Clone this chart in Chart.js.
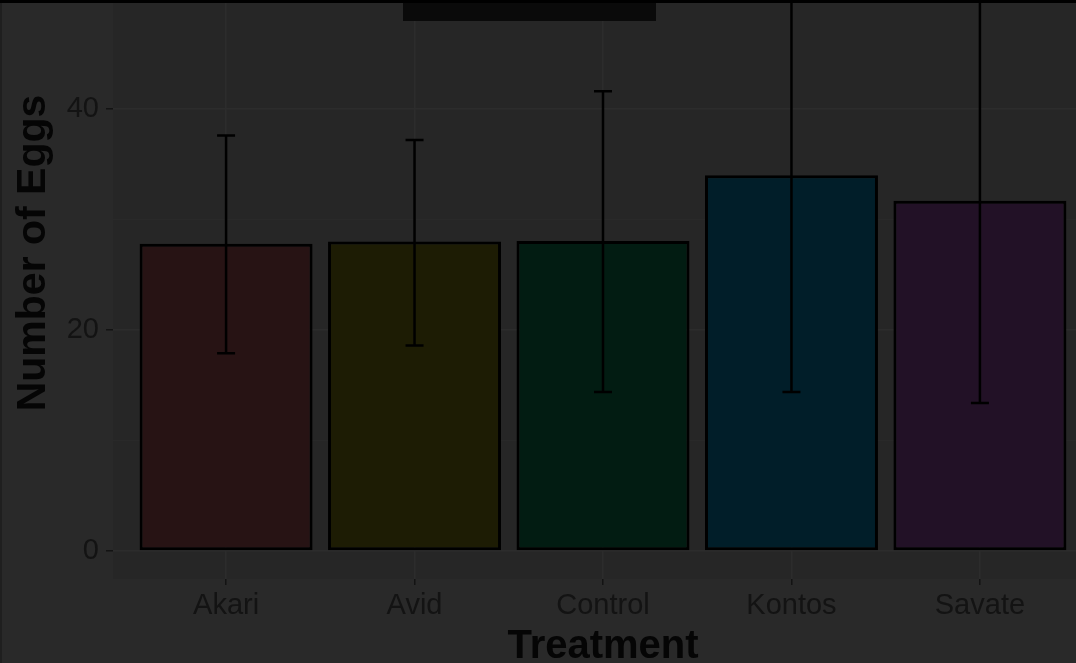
<!DOCTYPE html>
<html>
<head>
<meta charset="utf-8">
<script src="https://cdn.jsdelivr.net/npm/chart.js@4.4.1/dist/chart.umd.min.js"></script>
<style>
  html, body { margin: 0; padding: 0; background: #292929; overflow: hidden; }
  #wrap { position: relative; width: 1076px; height: 663px; overflow: hidden; }
  #eggChart { position: absolute; left: 0; top: -76px; }
  .topline { position: absolute; left: 0; top: 0; width: 1076px; height: 3px; background: #000; }
  .topbox { position: absolute; left: 403px; top: 3px; width: 253px; height: 18px; background: #0a0a0a; }
  .leftline { position: absolute; left: 0; top: 0; width: 2px; height: 663px; background: #1f1f1f; }
</style>
</head>
<body>
<div id="wrap">
  <canvas id="eggChart" width="1093" height="740"></canvas>
  <div class="leftline"></div>
  <div class="topline"></div>
  <div class="topbox"></div>
</div>
<script>
const treatments = ['Akari', 'Avid', 'Control', 'Kontos', 'Savate'];
const meanEggs = [27.8, 28.0, 28.05, 34.0, 31.7];
const lowerEggs = [17.9, 18.6, 14.4, 14.4, 13.4];
const upperEggs = [37.6, 37.2, 41.6, 53.6, 50.0];
const barColors = ['#271314', '#1d1c04', '#021c12', '#011e29', '#221126'];
const yTicks = [0, 10, 20, 30, 40, 50];
const yLabelled = [0, 20, 40];

const fontFamily = '"Liberation Sans", Arial, sans-serif';

// panel background (ggplot panel)
const panelBg = {
  id: 'panelBg',
  beforeDraw(chart) {
    const { ctx, chartArea } = chart;
    ctx.save();
    ctx.fillStyle = '#262626';
    ctx.fillRect(chartArea.left, chartArea.top, chartArea.right - chartArea.left, chartArea.bottom - chartArea.top);
    ctx.restore();
  }
};

// error bars drawn from lower/upper arrays
const errorBars = {
  id: 'errorBars',
  afterDatasetsDraw(chart) {
    const { ctx, scales } = chart;
    ctx.save();
    ctx.strokeStyle = '#000000';
    ctx.lineWidth = 2.5;
    const cap = 9;
    treatments.forEach((t, i) => {
      const x = scales.x.getPixelForValue(i + 1);
      const yLo = scales.y.getPixelForValue(lowerEggs[i]);
      const yHi = scales.y.getPixelForValue(upperEggs[i]);
      ctx.beginPath();
      ctx.moveTo(x, yLo);
      ctx.lineTo(x, yHi);
      ctx.moveTo(x - cap, yLo);
      ctx.lineTo(x + cap, yLo);
      ctx.moveTo(x - cap, yHi);
      ctx.lineTo(x + cap, yHi);
      ctx.stroke();
    });
    ctx.restore();
  }
};

const ctx = document.getElementById('eggChart').getContext('2d');
const eggChart = new Chart(ctx, {
  type: 'bar',
  data: {
    datasets: [{
      data: meanEggs.map((v, i) => ({ x: i + 1, y: v })),
      backgroundColor: barColors,
      borderColor: '#000000',
      borderWidth: 3,
      borderSkipped: false,
      categoryPercentage: 1,
      barPercentage: 0.918
    }]
  },
  options: {
    responsive: false,
    animation: false,
    layout: { padding: { top: 3, right: 0, left: 0, bottom: 0 } },
    plugins: {
      legend: { display: false },
      tooltip: { enabled: false }
    },
    scales: {
      x: {
        type: 'linear',
        min: 0.4,
        max: 5.6,
        offset: false,
        afterBuildTicks: scale => { scale.ticks = treatments.map((t, i) => ({ value: i + 1 })); },
        afterFit: scale => {
          scale.height = 85;
          scale.paddingLeft = 0;
          scale.paddingRight = 0;
        },
        border: { display: false },
        grid: {
          offset: false,
          color: '#2c2c2c',
          lineWidth: 1.5,
          tickColor: '#131313',
          tickLength: 6
        },
        ticks: {
          autoSkip: false,
          maxRotation: 0,
          padding: 4,
          color: '#131313',
          font: { family: fontFamily, size: 29 },
          callback: v => treatments[v - 1]
        },
        title: {
          display: true,
          text: 'Treatment',
          color: '#050505',
          font: { family: fontFamily, size: 40, weight: 'bold', lineHeight: 1 },
          padding: { top: 0, bottom: -3 }
        }
      },
      y: {
        min: -2.53,
        max: 56.47,
        afterBuildTicks: scale => { scale.ticks = yTicks.map(v => ({ value: v })); },
        afterFit: scale => {
          scale.width = 113;
          scale.paddingTop = 0;
          scale.paddingBottom = 0;
        },
        border: { display: false },
        grid: {
          color: c => yLabelled.includes(c.tick.value) ? '#2c2c2c' : '#292929',
          lineWidth: c => yLabelled.includes(c.tick.value) ? 1.5 : 1,
          tickColor: c => yLabelled.includes(c.tick.value) ? '#131313' : 'rgba(0,0,0,0)',
          tickLength: 7
        },
        ticks: {
          padding: 7,
          color: '#131313',
          font: { family: fontFamily, size: 29 },
          callback: v => yLabelled.includes(v) ? String(v) : ''
        },
        title: {
          display: true,
          text: 'Number of Eggs',
          color: '#050505',
          font: { family: fontFamily, size: 41, weight: 'bold', lineHeight: 1.2 },
          padding: { top: 9, bottom: 0 }
        }
      }
    }
  },
  plugins: [panelBg, errorBars]
});
</script>
</body>
</html>
